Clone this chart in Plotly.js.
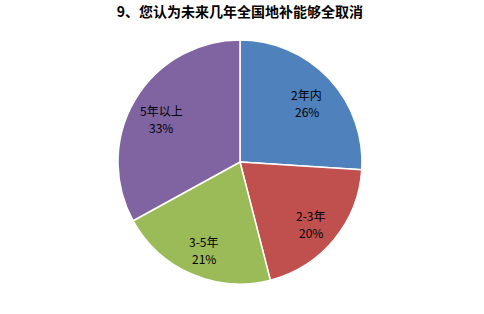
<!DOCTYPE html>
<html><head><meta charset="utf-8">
<script src="https://cdn.plot.ly/plotly-3.0.1.min.js"></script>
<style>html,body{margin:0;padding:0;background:#fff;}#chart{width:484px;height:314px;}</style>
</head><body><div id="chart"></div>
<script>
const categories = ["2年内", "2-3年", "3-5年", "5年以上"];
const values = [26, 20, 21, 33];
const colors = ["#4F81BD", "#C0504D", "#9BBB59", "#8064A2"];
const titleText = "9、您认为未来几年全国地补能够全取消";

const font = "'Noto Sans CJK SC', 'DejaVu Sans', sans-serif";
const W = 484, H = 314, cx = 240, cy = 162, R = 122;
const labelFrac = 0.75;

const total = values.reduce((a, b) => a + b, 0);
const annotations = [];
let cum = 0;
values.forEach((v, i) => {
  const mid = (cum + v / 2) / total * 2 * Math.PI;
  cum += v;
  const px = cx + labelFrac * R * Math.sin(mid);
  const py = cy - labelFrac * R * Math.cos(mid) + 4;
  const pct = Math.round(v / total * 100) + '%';
  [[categories[i], 8.5], [pct, -8.5]].forEach(([t, dy]) => {
    annotations.push({
      text: t, xref: 'paper', yref: 'paper',
      x: px / W, y: (H - py) / H, yshift: dy,
      xanchor: 'center', yanchor: 'middle', showarrow: false,
      font: {family: font, size: 12, color: '#000000'}
    });
  });
});

Plotly.newPlot('chart', [{
  type: 'pie',
  labels: categories,
  values: values,
  sort: false,
  direction: 'clockwise',
  rotation: 0,
  marker: {colors: colors, line: {color: '#ffffff', width: 1.5}},
  textinfo: 'none',
  hoverinfo: 'none',
  domain: {x: [(cx - R) / W, (cx + R) / W], y: [(H - cy - R) / H, (H - cy + R) / H]}
}], {
  width: W, height: H,
  margin: {l: 0, r: 0, t: 0, b: 0},
  paper_bgcolor: '#ffffff',
  showlegend: false,
  annotations: annotations,
  title: {text: titleText, x: 240 / W, xanchor: 'center', y: 1 - 12 / H, yanchor: 'middle',
          font: {family: font, size: 14, color: '#000000', weight: 'bold'}}
}, {displayModeBar: false, staticPlot: true});
</script></body></html>
